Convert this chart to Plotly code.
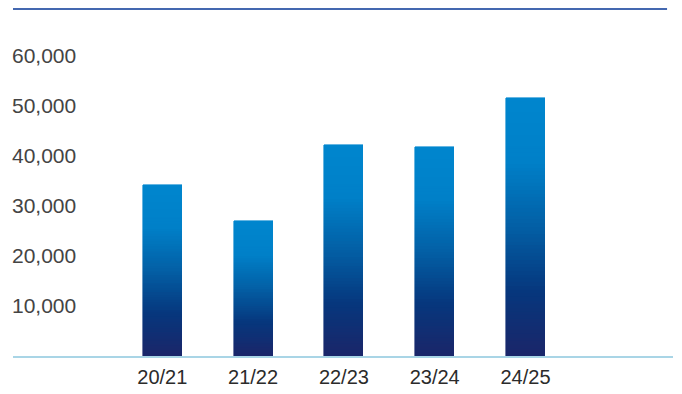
import plotly.graph_objects as go

categories = ["20/21", "21/22", "22/23", "23/24", "24/25"]
values = [34150, 26950, 42150, 41700, 51600]
tick_values = [10000, 20000, 30000, 40000, 50000, 60000]
tick_labels = ["10,000", "20,000", "30,000", "40,000", "50,000", "60,000"]

# gradient stops (fraction of bar height from bottom -> colour)
stops = [(0.0, (27, 37, 105)), (0.25, (6, 55, 125)), (0.5, (3, 95, 165)),
         (0.75, (0, 128, 200)), (1.0, (0, 134, 206))]


def grad(f):
    for (f0, c0), (f1, c1) in zip(stops[:-1], stops[1:]):
        if f <= f1:
            t = (f - f0) / (f1 - f0) if f1 > f0 else 0
            c = [round(a + (b - a) * t) for a, b in zip(c0, c1)]
            return "rgb(%d,%d,%d)" % tuple(c)
    return "rgb(%d,%d,%d)" % stops[-1][1]


N = 70
fig = go.Figure()
for i in range(N):
    f = (i + 0.5) / N
    cols = [grad(f) for _ in values]
    fig.add_trace(go.Bar(
        x=categories, y=[v / N for v in values], width=0.43,
        marker=dict(color=cols, line=dict(color=cols, width=0.6)),
        hoverinfo="skip", showlegend=False))

fig.update_layout(
    barmode="stack", bargap=0,
    width=682, height=394,
    margin=dict(l=13, r=9, t=9, b=38),
    paper_bgcolor="white", plot_bgcolor="white",
    font=dict(family="Liberation Sans, Arial, sans-serif", size=20, color="#2b2b2b"),
    xaxis=dict(type="category", range=[-1.644, 5.624], showgrid=False,
               showline=True, linecolor="#a9d5e6", linewidth=1.5, automargin=False,
               ticks="", tickfont=dict(size=20), ticklabelstandoff=2),
    yaxis=dict(range=[0, 69300], showgrid=False, zeroline=False, showline=False,
               automargin=False,
               tickvals=tick_values, ticktext=tick_labels, ticks="",
               ticklabelposition="inside", ticklabelstandoff=-4,
               tickfont=dict(size=21)),
    shapes=[dict(type="line", xref="paper", yref="paper", x0=0, x1=0.991,
                 y0=1, y1=1, line=dict(color="#4468b0", width=2))],
)
fig.write_html("out.html", config={"displayModeBar": False},
               post_script="document.body.style.margin='0';")
